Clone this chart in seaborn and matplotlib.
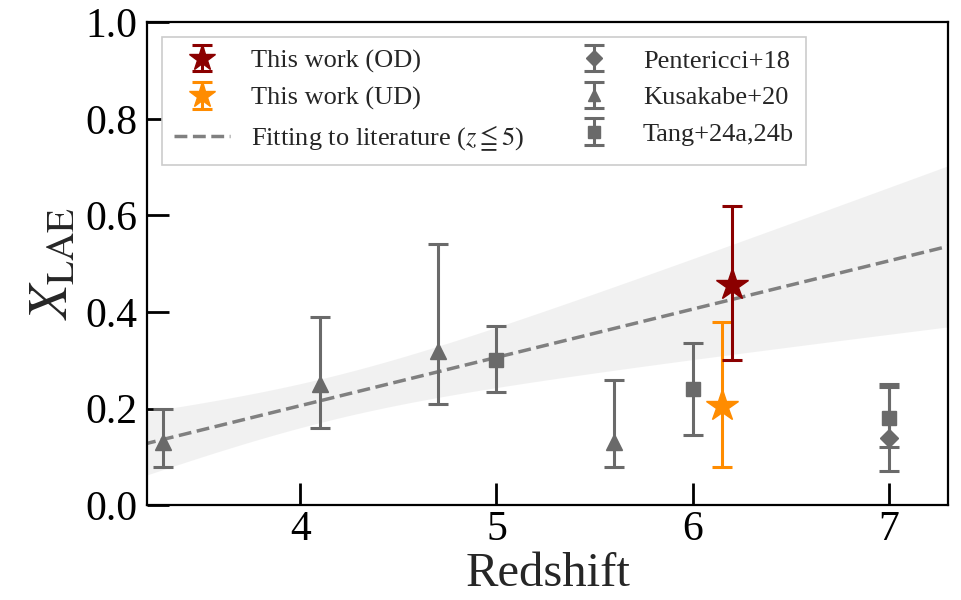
import numpy as np
import matplotlib
matplotlib.use("Agg")
import matplotlib.pyplot as plt
import seaborn as sns
import pandas as pd

# ---- measurements -------------------------------------------------------
# This work
od_z, od_x, od_lo, od_hi = [6.20], [0.455], [0.155], [0.165]
ud_z, ud_x, ud_lo, ud_hi = [6.15], [0.205], [0.125], [0.175]

# Literature
pent_z, pent_x = [7.0], [0.14]
pent_lo, pent_hi = [0.07], [0.105]

kusa_z = [3.3, 4.1, 4.7, 5.6]
kusa_x = [0.13, 0.25, 0.32, 0.13]
kusa_lo = [0.05, 0.09, 0.11, 0.05]
kusa_hi = [0.07, 0.14, 0.22, 0.13]

tang_z = [5.0, 6.0, 7.0]
tang_x = [0.30, 0.24, 0.18]
tang_lo = [0.065, 0.095, 0.06]
tang_hi = [0.07, 0.095, 0.07]

# Linear fit to the literature at z <= 5 (pivot form) and its 1-sigma parameters
fit_pivot = 4.15
fit_at_pivot = 0.221
fit_slope = 0.100
fit_sig_pivot = 0.045
fit_sig_slope = 0.051

x_ticks = [4, 5, 6, 7]
y_ticks = [0.0, 0.2, 0.4, 0.6, 0.8, 1.0]

# ---- style --------------------------------------------------------------
sns.set_theme(style="ticks")
plt.rcParams["font.family"] = ["Liberation Serif", "DejaVu Serif"]
plt.rcParams["mathtext.fontset"] = "stix"

fig = plt.figure(figsize=(9.61, 6.0), dpi=100)
ax = fig.add_axes([0.153, 0.158, 0.8335, 0.805])

lit_color = "#6a6a6a"
od_color = "#8b0000"
ud_color = "#ff8c00"

# Fit line and its confidence band
zgrid = np.linspace(3.2, 7.35, 200)
fit_df = pd.DataFrame({
    "z": zgrid,
    "x": fit_at_pivot + fit_slope * (zgrid - fit_pivot),
})
half = np.sqrt(fit_sig_pivot ** 2 + (fit_sig_slope * (zgrid - fit_pivot)) ** 2)
ax.fill_between(zgrid, fit_df["x"] - half, fit_df["x"] + half,
                color="#d9d9d9", alpha=0.35, lw=0, zorder=1)
sns.lineplot(data=fit_df, x="z", y="x", ax=ax, color="gray", lw=2.5,
             linestyle="--", label=r"Fitting to literature ($z \leqq 5$)",
             zorder=2)

eb = dict(elinewidth=2.2, capsize=7, capthick=2.2, linestyle="none", zorder=3)
h_pent = ax.errorbar(pent_z, pent_x, yerr=[pent_lo, pent_hi], fmt="D",
                     color=lit_color, ms=9, label="Pentericci+18", **eb)
h_kusa = ax.errorbar(kusa_z, kusa_x, yerr=[kusa_lo, kusa_hi], fmt="^",
                     color=lit_color, ms=11, label="Kusakabe+20", **eb)
h_tang = ax.errorbar(tang_z, tang_x, yerr=[tang_lo, tang_hi], fmt="s",
                     color=lit_color, ms=10, label="Tang+24a,24b", **eb)
h_ud = ax.errorbar(ud_z, ud_x, yerr=[ud_lo, ud_hi], fmt="*",
                   color=ud_color, ms=24, label="This work (UD)", **eb)
h_od = ax.errorbar(od_z, od_x, yerr=[od_lo, od_hi], fmt="*",
                   color=od_color, ms=24, label="This work (OD)", **eb)

ax.set_xlim(3.22, 7.3)
ax.set_ylim(0.0, 1.0)
ax.set_xticks(x_ticks)
ax.set_yticks(y_ticks)
ax.set_yticklabels([f"{v:.1f}" for v in y_ticks])
ax.tick_params(direction="in", length=16, width=2, labelsize=30,
               colors="black")
ax.tick_params(axis="x", pad=4)
ax.tick_params(axis="y", pad=7)
for s in ax.spines.values():
    s.set_linewidth(1.6)
    s.set_color("black")

ax.set_xlabel("Redshift", fontsize=35, labelpad=2)
ax.set_ylabel(r"$X_{\rm LAE}$", fontsize=40, labelpad=4)

fit_handle = ax.get_lines()[0]
handles = [h_od, h_ud, fit_handle, h_pent, h_kusa, h_tang]
labels = [h.get_label() for h in handles]
leg = ax.legend(handles, labels, ncol=2, loc="upper left",
                bbox_to_anchor=(0.019, 0.969), borderaxespad=0.0,
                fontsize=19, frameon=True, fancybox=False, framealpha=1.0,
                edgecolor="#cccccc", handlelength=2.1, columnspacing=1.6,
                borderpad=0.45, labelspacing=0.5, handletextpad=0.8,
                markerscale=0.85)
leg.get_frame().set_linewidth(1.2)

fig.savefig("out.png", dpi=100)
